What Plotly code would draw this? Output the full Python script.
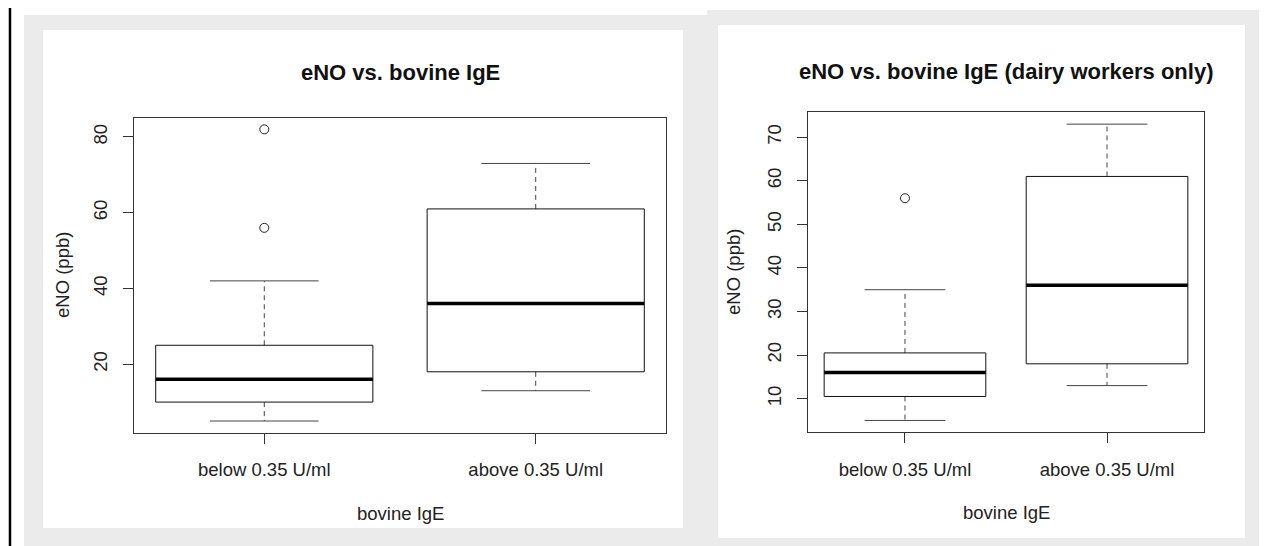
"""
Two R-style boxplots of eNO by bovine IgE group, redrawn in plotly
"""

import plotly.graph_objects as go

W, H = 1275, 546

groups = ["below 0.35 U/ml", "above 0.35 U/ml"]

# all subjects
all_lower = [5, 13]
all_q1 = [10, 18]
all_median = [16, 36]
all_q3 = [25, 61]
all_upper = [42, 73]
all_outliers = [[82, 56], []]
all_ticks = [20, 40, 60, 80]

# dairy workers only
dairy_lower = [5, 13]
dairy_q1 = [10.5, 18]
dairy_median = [16, 36]
dairy_q3 = [20.5, 61]
dairy_upper = [35, 73]
dairy_outliers = [[56], []]
dairy_ticks = [10, 20, 30, 40, 50, 60, 70]

FONT = "Liberation Sans, Arial, Helvetica, sans-serif"
BOX_HALF = 0.4
CAP_HALF = 0.2


def px(x, y):
    """pixel position -> paper coords (margins are zero)"""
    return x / W, 1 - y / H


def add_boxes(fig, xa, ya, lower, q1, med, q3, upper, outliers):
    bx, by, mx, my, wx, wy, cx, cy, ox, oy = [], [], [], [], [], [], [], [], [], []
    for i in range(len(groups)):
        c = i + 1
        l, r = c - BOX_HALF, c + BOX_HALF
        bx += [l, r, r, l, l, None]
        by += [q1[i], q1[i], q3[i], q3[i], q1[i], None]
        mx += [l, r, None]
        my += [med[i], med[i], None]
        wx += [c, c, None, c, c, None]
        wy += [q3[i], upper[i], None, q1[i], lower[i], None]
        cx += [c - CAP_HALF, c + CAP_HALF, None, c - CAP_HALF, c + CAP_HALF, None]
        cy += [upper[i], upper[i], None, lower[i], lower[i], None]
        ox += [c] * len(outliers[i])
        oy += outliers[i]

    common = dict(xaxis=xa, yaxis=ya, mode="lines", hoverinfo="skip", showlegend=False)
    fig.add_trace(go.Scatter(x=wx, y=wy, line=dict(color="#444", width=1, dash="5px,4px"), **common))
    fig.add_trace(go.Scatter(x=cx, y=cy, line=dict(color="#444", width=1), **common))
    fig.add_trace(go.Scatter(x=bx, y=by, line=dict(color="#111", width=1), **common))
    fig.add_trace(go.Scatter(x=mx, y=my, line=dict(color="#000", width=3.5), **common))
    fig.add_trace(go.Scatter(
        x=ox, y=oy, xaxis=xa, yaxis=ya, mode="markers", showlegend=False,
        marker=dict(symbol="circle-open", size=9, color="#222", line=dict(width=1)),
    ))


def y_range(lower, upper, outliers):
    vals = lower + upper + [v for o in outliers for v in o]
    lo, hi = min(vals), max(vals)
    pad = (hi - lo) * 0.04
    return [lo - pad, hi + pad]


fig = go.Figure()
add_boxes(fig, "x", "y", all_lower, all_q1, all_median, all_q3, all_upper, all_outliers)
add_boxes(fig, "x2", "y2", dairy_lower, dairy_q1, dairy_median, dairy_q3, dairy_upper, dairy_outliers)

axis_common = dict(
    showgrid=False, zeroline=False, showline=True, mirror=True,
    linecolor="#333", linewidth=1, ticks="outside", ticklen=10,
    tickcolor="#333", tickfont=dict(family=FONT, size=18.5, color="#222"),
)

xr = [1 - BOX_HALF - 0.08, len(groups) + BOX_HALF + 0.08]

fig.update_layout(
    width=W, height=H,
    margin=dict(l=0, r=0, t=0, b=0),
    paper_bgcolor="white",
    plot_bgcolor="rgba(0,0,0,0)",
    xaxis=dict(domain=[134 / W, 666 / W], anchor="y", range=xr,
               tickvals=[1, 2], ticktext=groups, ticklabelstandoff=10, **axis_common),
    yaxis=dict(domain=[1 - 432.7 / H, 1 - 117.7 / H], anchor="x",
               range=y_range(all_lower, all_upper, all_outliers),
               tickvals=all_ticks, tickangle=-90, ticklabelstandoff=9, **axis_common),
    xaxis2=dict(domain=[808 / W, 1204 / W], anchor="y2", range=xr,
                tickvals=[1, 2], ticktext=groups, ticklabelstandoff=10, **axis_common),
    yaxis2=dict(domain=[1 - 432.3 / H, 1 - 112.3 / H], anchor="x2",
                range=y_range(dairy_lower, dairy_upper, dairy_outliers),
                tickvals=dairy_ticks, tickangle=-90, ticklabelstandoff=9, **axis_common),
)

# page background: grey frames, white panels, black rule at the left
panels = [
    (24, 15, 707, 546, "#ebebeb"),
    (43, 30, 683, 528, "white"),
    (707, 10, 1259, 546, "#ebebeb"),
    (718, 25, 1245, 538, "white"),
]
for x0, y0, x1, y1, col in panels:
    a0, b0 = px(x0, y0)
    a1, b1 = px(x1, y1)
    fig.add_shape(type="rect", xref="paper", yref="paper", x0=a0, x1=a1, y0=b1, y1=b0,
                  fillcolor=col, line_width=0, layer="below")
l0, t0 = px(10, 8)
l1, t1 = px(10, 546)
fig.add_shape(type="line", xref="paper", yref="paper", x0=l0, x1=l1, y0=t1, y1=t0,
              line=dict(color="black", width=2.5), layer="below")

titles = [
    ("eNO vs. bovine IgE", 400, 73),
    ("eNO vs. bovine IgE (dairy workers only)", 1006, 72),
]
for text, x, y in titles:
    ax, ay = px(x, y)
    fig.add_annotation(x=ax, y=ay, xref="paper", yref="paper", text=f"<b>{text}</b>",
                       xanchor="center", yanchor="middle", showarrow=False,
                       font=dict(family=FONT, size=22, color="#111"))

axis_titles = [
    ("bovine IgE", 400, 513, 0),
    ("eNO (ppb)", 62, 275, -90),
    ("bovine IgE", 1006, 512, 0),
    ("eNO (ppb)", 733, 272, -90),
]
for text, x, y, ang in axis_titles:
    ax, ay = px(x, y)
    fig.add_annotation(x=ax, y=ay, xref="paper", yref="paper", text=text, textangle=ang,
                       xanchor="center", yanchor="middle", showarrow=False,
                       font=dict(family=FONT, size=18.5, color="#222"))

# drop the default page margin so the figure sits at the window origin
fig.write_html(
    "out.html",
    config={"displayModeBar": False},
    post_script="document.body.style.margin = '0';",
)
